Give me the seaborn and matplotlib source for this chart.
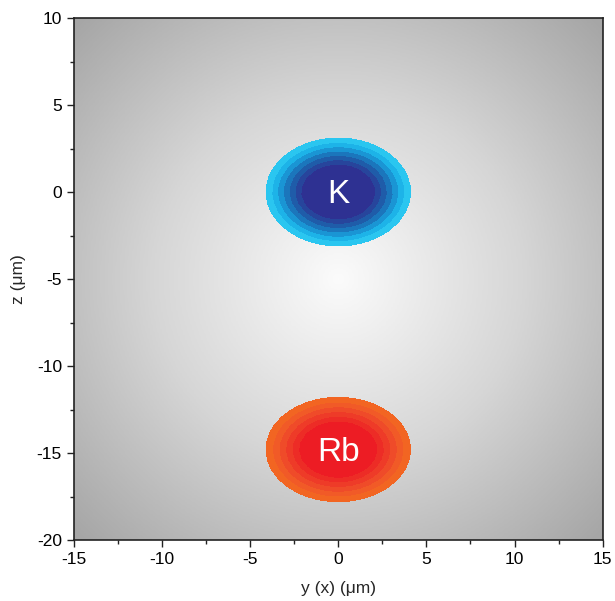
import numpy as np
import matplotlib
matplotlib.use("Agg")
import matplotlib.pyplot as plt
from matplotlib.colors import LinearSegmentedColormap
import seaborn as sns

# ---- data ----
species = ["K", "Rb"]
centers_x = [0.0, 0.0]
centers_z = [0.0, -14.8]
semi_x = [4.1, 4.1]
semi_z = [3.1, 3.0]
k_colors = ["#2e3192", "#27459c", "#1f5ca9", "#1b76bc", "#1a95d4", "#1db3e8", "#2ac6f0"]
rb_colors = ["#ed1c24", "#ed2c26", "#ee3b28", "#ef4b29", "#f15a27", "#f26522"]
k_levels = [0.0, 0.52, 0.60, 0.68, 0.76, 0.84, 0.92, 1.0]
rb_levels = [0.0, 0.55, 0.64, 0.73, 0.82, 0.91, 1.0]
bg_center = (0.0, -5.0)
x_ticks = [-15, -10, -5, 0, 5, 10, 15]
z_ticks = [-20, -15, -10, -5, 0, 5, 10]

sns.set_theme(style="ticks")
plt.rcParams['font.family'] = ['Liberation Sans', 'DejaVu Sans']
plt.rcParams['axes.unicode_minus'] = False

fig = plt.figure(figsize=(6.15, 6.01), dpi=100)
ax = fig.add_axes([0.120, 0.1015, 0.860, 0.8685])

# background radial gradient
gx = np.linspace(-15, 15, 300)
gz = np.linspace(-20, 10, 300)
GX, GZ = np.meshgrid(gx, gz)
R = np.sqrt((GX - bg_center[0])**2 + (GZ - bg_center[1])**2)
bg_cmap = LinearSegmentedColormap.from_list("bg", ["#fbfbfb", "#d6d6d6", "#a6a6a6"])
ax.imshow(R, extent=[-15, 15, -20, 10], origin="lower", cmap=bg_cmap,
          vmin=0, vmax=21, aspect="auto", zorder=0)

# blobs
cx = np.linspace(-15, 15, 60)
cz = np.linspace(-20, 10, 60)
CX, CZ = np.meshgrid(cx, cz)
for name, x0, z0, a, b, cols, lev in zip(species, centers_x, centers_z, semi_x, semi_z,
                                          [k_colors, rb_colors], [k_levels, rb_levels]):
    F = np.sqrt(((CX - x0)/a)**2 + ((CZ - z0)/b)**2)
    ax.contourf(CX, CZ, F, levels=lev, colors=cols, zorder=2)
    ax.text(x0, z0 - 0.15, name, color="white", fontsize=24, ha="center", va="center", zorder=3)

ax.set_xlim(-15, 15)
ax.set_ylim(-20, 10)
ax.set_xticks(x_ticks)
ax.set_yticks(z_ticks)
ax.set_xticks(np.arange(-12.5, 15, 5), minor=True)
ax.set_yticks(np.arange(-17.5, 10, 5), minor=True)
ax.tick_params(which="major", direction="out", length=5, width=1, labelsize=12.5, colors="#222222",
               labelcolor="black")
ax.tick_params(which="minor", direction="out", length=3, width=1, colors="#222222")
for s in ax.spines.values():
    s.set_linewidth(1.2)
    s.set_color("#222222")
ax.set_xlabel("y (x) (\u03bcm)", fontsize=12.5, labelpad=10)
ax.set_ylabel("z (\u03bcm)", fontsize=12.5, labelpad=8)

fig.savefig("out.png", dpi=100)
